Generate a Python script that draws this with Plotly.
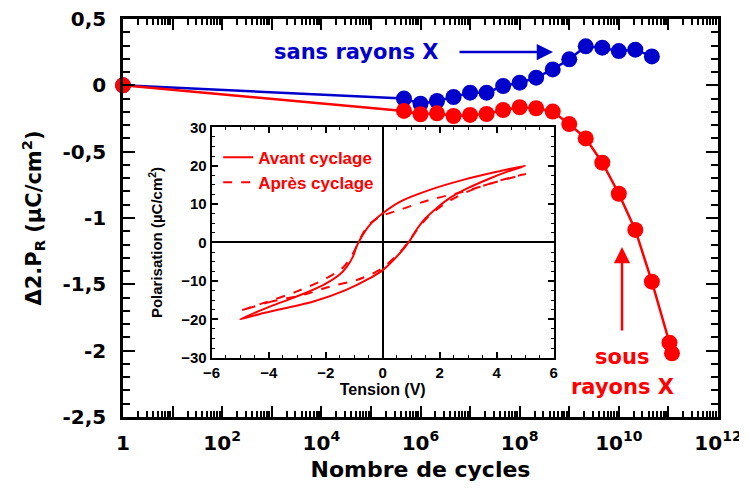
import plotly.graph_objects as go

# ---------------- main chart data ----------------
cycles_blue = [1, 4.64e5, 1e6, 2.15e6, 4.64e6, 1e7, 2.15e7, 4.64e7, 1e8, 2.15e8,
               4.64e8, 1e9, 2.15e9, 4.64e9, 1e10, 2.15e10, 4.64e10]
dpr_blue = [0, -0.100, -0.138, -0.118, -0.088, -0.055, -0.055, -0.005, 0.020, 0.058,
            0.120, 0.196, 0.294, 0.284, 0.258, 0.269, 0.218]

cycles_red = [1, 4.64e5, 1e6, 2.15e6, 4.64e6, 1e7, 2.15e7, 4.64e7, 1e8, 2.15e8,
              4.64e8, 1e9, 2.15e9, 4.64e9, 1e10, 2.15e10, 4.64e10, 1.05e11, 1.18e11]
dpr_red = [0, -0.193, -0.218, -0.211, -0.231, -0.223, -0.216, -0.186, -0.165, -0.173,
           -0.198, -0.292, -0.400, -0.583, -0.817, -1.090, -1.480, -1.940, -2.020]

y_tickvals = [0.5, 0, -0.5, -1, -1.5, -2, -2.5]
y_ticktext = ["0,5", "0", "-0,5", "-1", "-1,5", "-2", "-2,5"]
x_tickvals = [1, 1e1, 1e2, 1e3, 1e4, 1e5, 1e6, 1e7, 1e8, 1e9, 1e10, 1e11, 1e12]
x_ticktext = ["1", "", "10<sup>2</sup>", "", "10<sup>4</sup>", "", "10<sup>6</sup>", "",
              "10<sup>8</sup>", "", "10<sup>10</sup>", "", "10<sup>12</sup>"]

# ---------------- inset hysteresis data ----------------
# Avant cyclage (solid): ascending branch then descending branch
v_avant = [-5, -4.3, -3.6, -2.4, -1.3, -0.45, 0, 0.6, 0.95, 1.2, 1.5, 1.9, 2.4, 3.0, 3.8, 4.4, 5,
           4.0, 2.82, 1.65, 0.6, 0, -0.45, -0.74, -0.92, -1.04, -1.25, -1.5, -2.09, -3.03, -3.96, -5]
p_avant = [-20, -18.6, -17.4, -15.3, -12.4, -9.3, -7.2, -2.8, 0.5, 3.5, 6.3, 9.0, 11.8, 14.2, 16.8, 18.5, 20,
           18.4, 16.3, 13.7, 10.6, 7.6, 4.6, 1.5, -1.1, -3.6, -6.2, -8.3, -11.1, -14.1, -16.7, -20]
# Après cyclage (dashed)
v_apres = [-5, -4.0, -2.67, -1.86, -0.92, -0.22, 0, 0.6, 0.9, 1.2, 1.5, 1.9, 2.4, 3.0, 4.0, 5,
           4.0, 2.82, 1.65, 0.6, -0.1, -0.5, -0.69, -0.92, -1.1, -1.39, -1.97, -3.03, -4.2, -5]
p_apres = [-17.8, -15.6, -13.4, -11.5, -9.8, -7.6, -6.6, -2.6, 0.2, 3.2, 6.0, 8.6, 11.1, 13.3, 15.9, 17.8,
           15.8, 13.2, 11.1, 8.5, 6.7, 4.5, 2.4, -1.1, -3.6, -6.5, -9.3, -12.8, -15.8, -17.8]

BLUE = "#0000CC"
RED = "#FF0000"
MAIN_FONT = "DejaVu Sans"
INSET_FONT = "Liberation Sans"

fig = go.Figure()

fig.add_trace(go.Scatter(
    x=cycles_blue, y=dpr_blue, mode="lines+markers", name="sans rayons X",
    line=dict(color=BLUE, width=2.5), marker=dict(color=BLUE, size=16),
    cliponaxis=False, showlegend=False, xaxis="x", yaxis="y"))
fig.add_trace(go.Scatter(
    x=cycles_red, y=dpr_red, mode="lines+markers", name="sous rayons X",
    line=dict(color=RED, width=2.5), marker=dict(color=RED, size=16),
    cliponaxis=False, showlegend=False, xaxis="x", yaxis="y"))

fig.add_trace(go.Scatter(
    x=v_avant, y=p_avant, mode="lines", name="Avant cyclage",
    line=dict(color=RED, width=2, shape="spline", smoothing=0.9), xaxis="x2", yaxis="y2"))
fig.add_trace(go.Scatter(
    x=v_apres, y=p_apres, mode="lines", name="Après cyclage",
    line=dict(color=RED, width=2, dash="dash", shape="spline", smoothing=0.9),
    xaxis="x2", yaxis="y2"))

axis_common = dict(showline=True, linecolor="black", mirror="ticks", ticks="inside",
                   tickcolor="black", showgrid=False, zeroline=False, automargin=False,
                   ticklabeloverflow="allow")

# page body adds an 8px offset, so the figure is sized 8px smaller than the window
fig.update_layout(
    width=739, height=482,
    margin=dict(l=115, r=29, t=11, b=73),
    paper_bgcolor="white", plot_bgcolor="white",
    font=dict(family=MAIN_FONT, color="black", weight="bold"),
    xaxis=dict(
        type="log", range=[0, 12], domain=[0, 1],
        tickmode="array", tickvals=x_tickvals, ticktext=x_ticktext,
        linewidth=2.5, ticklen=11, tickwidth=2,
        minor=dict(ticks="inside", ticklen=6, tickwidth=1.5, dtick="D1", tickcolor="black"),
        tickfont=dict(family=MAIN_FONT, size=20, weight="bold"),
        ticklabelstandoff=6,
        title=dict(text="Nombre de cycles", font=dict(family=MAIN_FONT, size=22, weight="bold"),
                   standoff=8),
        **axis_common),
    yaxis=dict(
        range=[-2.5, 0.5], domain=[0, 1],
        tickmode="array", tickvals=y_tickvals, ticktext=y_ticktext,
        linewidth=2.5, ticklen=12, tickwidth=2,
        minor=dict(ticks="inside", ticklen=7, tickwidth=1.5, dtick=0.1, tickcolor="black"),
        tickfont=dict(family=MAIN_FONT, size=20, weight="bold"),
        ticklabelstandoff=10,
        title=dict(text="Δ2.P<sub>R</sub> (µC/cm<sup>2</sup>)",
                   font=dict(family=MAIN_FONT, size=21, weight="bold"), standoff=16),
        **axis_common),
    xaxis2=dict(
        range=[-6, 6], domain=[0.149, 0.724], anchor="y2", automargin=False,
        dtick=2, linewidth=2, ticklen=6, tickwidth=1.5,
        minor=dict(ticks="inside", ticklen=3, tickwidth=1.2, dtick=0.5, tickcolor="black"),
        tickfont=dict(family=INSET_FONT, size=15, weight="bold"),
        title=dict(text="Tension (V)", font=dict(family=INSET_FONT, size=16, weight="bold"),
                   standoff=4),
        showline=True, linecolor="black", mirror="ticks", ticks="inside", tickcolor="black",
        showgrid=False, zeroline=True, zerolinecolor="black", zerolinewidth=2),
    yaxis2=dict(
        range=[-30, 30], domain=[0.149, 0.728], anchor="x2", automargin=False,
        dtick=10, linewidth=2, ticklen=6, tickwidth=1.5,
        minor=dict(ticks="inside", ticklen=3, tickwidth=1.2, dtick=2.5, tickcolor="black"),
        tickfont=dict(family=INSET_FONT, size=15, weight="bold"),
        title=dict(text="Polarisation (µC/cm<sup>2</sup>)",
                   font=dict(family=INSET_FONT, size=15, weight="bold"), standoff=15),
        showline=True, linecolor="black", mirror="ticks", ticks="inside", tickcolor="black",
        showgrid=False, zeroline=True, zerolinecolor="black", zerolinewidth=2),
    legend=dict(
        x=0.160, y=0.697, xanchor="left", yanchor="top",
        bgcolor="rgba(0,0,0,0)", borderwidth=0,
        font=dict(family=INSET_FONT, size=17, color=RED, weight="bold"),
        tracegroupgap=0, itemwidth=30),
)

# annotations: labels and arrows
fig.add_annotation(xref="paper", yref="paper", x=0.3924, y=0.917, text="sans rayons X",
                   xanchor="center", yanchor="middle", showarrow=False,
                   font=dict(family=MAIN_FONT, size=21, color=BLUE, weight="bold"))
fig.add_annotation(xref="paper", yref="paper", x=0.7227, y=0.917, ax=-95, ay=0,
                   axref="pixel", ayref="pixel", text="", showarrow=True,
                   arrowhead=2, arrowsize=1.3, arrowwidth=2.5, arrowcolor=BLUE)
fig.add_annotation(xref="paper", yref="paper", x=0.8387, y=0.151, text="sous",
                   xanchor="center", yanchor="middle", showarrow=False,
                   font=dict(family=MAIN_FONT, size=21, color=RED, weight="bold"))
fig.add_annotation(xref="paper", yref="paper", x=0.8387, y=0.075, text="rayons X",
                   xanchor="center", yanchor="middle", showarrow=False,
                   font=dict(family=MAIN_FONT, size=21, color=RED, weight="bold"))
fig.add_annotation(xref="paper", yref="paper", x=0.8387, y=0.427, ax=0, ay=85,
                   axref="pixel", ayref="pixel", text="", showarrow=True,
                   arrowhead=2, arrowsize=1.3, arrowwidth=2.5, arrowcolor=RED)

fig.write_html("out.html")
